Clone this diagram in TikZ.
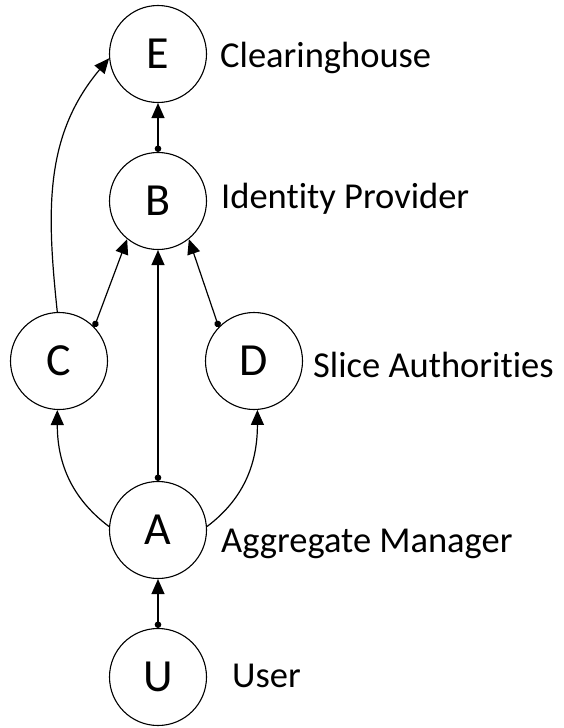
\documentclass[tikz,border=0pt]{standalone}
\usepackage{fontspec}
\setmainfont[Ligatures=NoCommon]{Carlito}
\usetikzlibrary{arrows.meta}
\begin{document}
\begin{tikzpicture}[x=1pt,y=1pt,
  party/.style={circle,draw,line width=1.1pt,minimum size=97pt,inner sep=0pt,
    font=\fontsize{46}{52}\selectfont},
  role/.style={anchor=base west,inner sep=0pt,font=\fontsize{36.5}{44}\selectfont},
  link/.style={line width=1.2pt,-{Triangle[length=15pt,width=13pt]}},
  dotlink/.style={link,{Circle[length=6.5pt]}-{Triangle[length=15pt,width=13pt]}}]
\useasboundingbox (0,0) rectangle (563,-728);

% entities
\node[party] (E) at (158,-54)  {E};
\node[party] (B) at (158,-201) {B};
\node[party] (C) at (59,-361)  {C};
\node[party] (D) at (254,-361) {D};
\node[party] (A) at (158,-530) {A};
\node[party] (U) at (158,-677) {U};

% role labels
\node[role] (lE) at (220,-67)  {Clearinghouse};
\node[role] (lB) at (221,-208) {Identity Provider};
\node[role] (lD) at (313,-377) {Slice Authorities};
\node[role] (lA) at (221,-552) {Aggregate Manager};
\node[role] (lU) at (232,-687) {User};

% trust relations
\draw[dotlink] (U.north) -- (A.south);
\draw[dotlink] (A.north) -- (B.south);
\draw[dotlink] (B.north) -- (E.south);
\draw[dotlink] (C.44) -- (B.231);
\draw[dotlink] (D.136) -- (B.-51);
\draw[link] (A.176) to[out=143,in=-90] (C.-92);
\draw[link] (A.4) to[out=37,in=-90] (D.-86);
\draw[link] (C.92) to[out=96,in=-130] (E.185);
\end{tikzpicture}
\end{document}
